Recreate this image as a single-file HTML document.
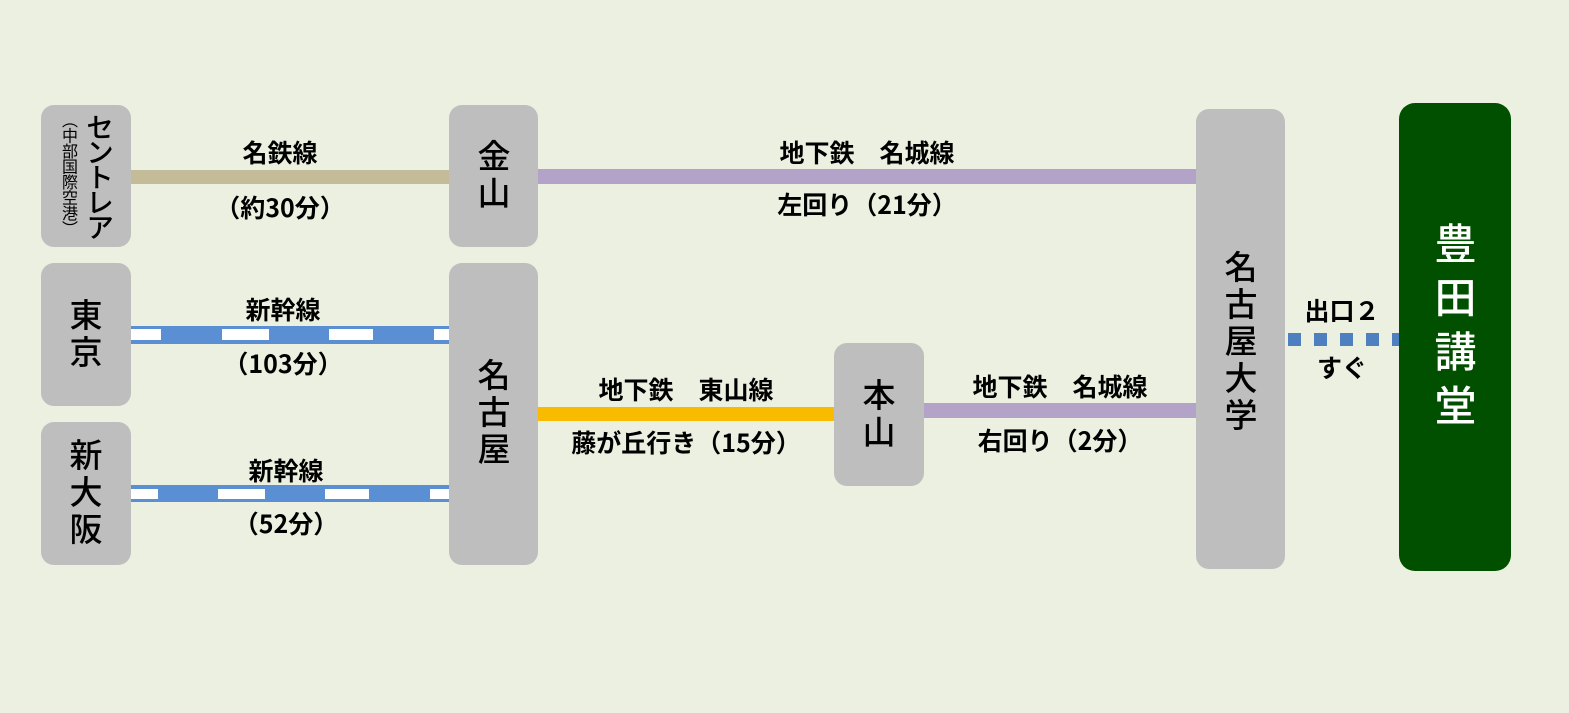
<!DOCTYPE html>
<html><head><meta charset="utf-8"><style>
body{margin:0;width:1569px;height:713px;background:#ecf0e0;position:relative;overflow:hidden;font-family:"Noto Sans CJK JP","Liberation Sans",sans-serif;}
.b{position:absolute;background:#bebebe;border-radius:13px;}
.v{position:absolute;writing-mode:vertical-rl;font-size:33px;color:#000;letter-spacing:4px;text-align:start;font-weight:500;}
.l{position:absolute;}
.t{position:absolute;font-weight:bold;font-size:25px;text-align:center;color:#000;white-space:nowrap;line-height:30px;}
.w{position:absolute;background:#fff;}
</style></head><body>
<div class="l" style="left:131px;top:170px;width:318px;height:14px;background:#c4bc98"></div>
<div class="l" style="left:538px;top:169px;width:658px;height:15px;background:#b3a3c8"></div>
<div class="l" style="left:131px;top:326px;width:318px;height:18px;background:#5b8fd3"></div>
<div class="w" style="left:131px;top:329px;width:30px;height:11px"></div>
<div class="w" style="left:222px;top:329px;width:47px;height:11px"></div>
<div class="w" style="left:329px;top:329px;width:44px;height:11px"></div>
<div class="w" style="left:434px;top:329px;width:15px;height:11px"></div>
<div class="l" style="left:131px;top:485px;width:318px;height:17px;background:#5b8fd3"></div>
<div class="w" style="left:131px;top:489px;width:27px;height:10px"></div>
<div class="w" style="left:218px;top:489px;width:47px;height:10px"></div>
<div class="w" style="left:325px;top:489px;width:44px;height:10px"></div>
<div class="w" style="left:430px;top:489px;width:19px;height:10px"></div>
<div class="l" style="left:538px;top:407px;width:296px;height:14px;background:#f9bb00"></div>
<div class="l" style="left:924px;top:403px;width:272px;height:15px;background:#b3a3c8"></div>
<div class="l" style="left:1288px;top:333px;width:111px;height:13px;background:repeating-linear-gradient(90deg,#4e7fbf 0 13px,transparent 13px 26px)"></div>

<div class="b" style="left:41px;top:105px;width:90px;height:142px"></div>
<div class="v" style="left:84px;top:113px;line-height:32px;font-size:28px;letter-spacing:-3px">セントレア</div>
<div class="v" style="left:60px;top:112px;line-height:20px;font-size:16px;letter-spacing:-0.5px;font-weight:400">（中部国際空港）</div>
<div class="b" style="left:41px;top:263px;width:90px;height:143px"></div>
<div class="v" style="left:41px;top:298px;line-height:90px">東京</div>
<div class="b" style="left:41px;top:422px;width:90px;height:143px"></div>
<div class="v" style="left:41px;top:438px;line-height:90px">新大阪</div>
<div class="b" style="left:449px;top:105px;width:89px;height:142px"></div>
<div class="v" style="left:449px;top:139px;line-height:89px">金山</div>
<div class="b" style="left:449px;top:263px;width:89px;height:302px"></div>
<div class="v" style="left:449px;top:358px;line-height:89px">名古屋</div>
<div class="b" style="left:834px;top:343px;width:90px;height:143px"></div>
<div class="v" style="left:834px;top:378px;line-height:90px">本山</div>
<div class="b" style="left:1196px;top:109px;width:89px;height:460px"></div>
<div class="v" style="left:1196px;top:250px;line-height:89px">名古屋大学</div>
<div class="b" style="left:1399px;top:103px;width:112px;height:468px;background:#005000;border-radius:16px"></div>
<div class="v" style="left:1399px;top:222px;line-height:112px;color:#fff;font-size:42px;letter-spacing:12px">豊田講堂</div>

<div class="t" style="left:131px;width:298px;top:137px">名鉄線</div>
<div class="t" style="left:131px;width:298px;top:192px">（約30分）</div>
<div class="t" style="left:538px;width:658px;top:137px">地下鉄　名城線</div>
<div class="t" style="left:538px;width:658px;top:189px">左回り（21分）</div>
<div class="t" style="left:131px;width:304px;top:294px">新幹線</div>
<div class="t" style="left:131px;width:304px;top:348px">（103分）</div>
<div class="t" style="left:131px;width:310px;top:455px">新幹線</div>
<div class="t" style="left:131px;width:310px;top:508px">（52分）</div>
<div class="t" style="left:538px;width:296px;top:374px">地下鉄　東山線</div>
<div class="t" style="left:538px;width:296px;top:427px">藤が丘行き（15分）</div>
<div class="t" style="left:924px;width:272px;top:371px">地下鉄　名城線</div>
<div class="t" style="left:924px;width:272px;top:425px">右回り（2分）</div>
<div class="t" style="left:1285px;width:114px;top:295px">出口２</div>
<div class="t" style="left:1285px;width:114px;top:352px">すぐ</div>
</body></html>
